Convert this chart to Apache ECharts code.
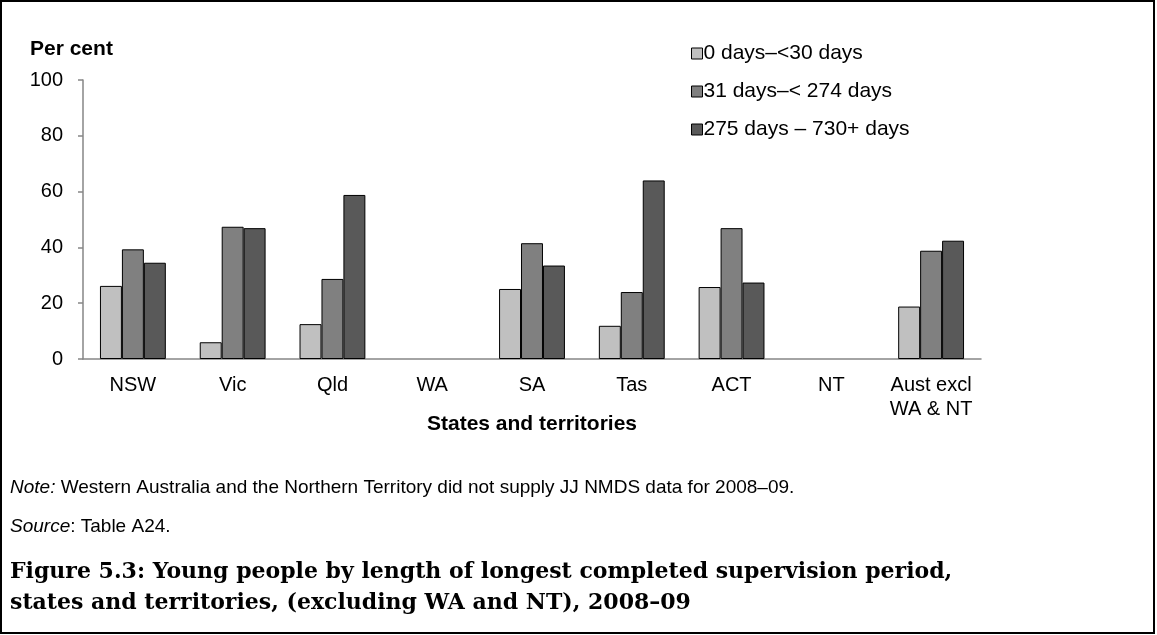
<!DOCTYPE html>
<html>
<head>
<meta charset="utf-8">
<script src="https://cdn.jsdelivr.net/npm/echarts@6/dist/echarts.min.js"></script>
<style>
  html, body { margin: 0; padding: 0; background: #fff; }
  #chart { width: 1157px; height: 635px; }
</style>
</head>
<body>
<div id="chart"></div>
<script>
const categories = ['NSW', 'Vic', 'Qld', 'WA', 'SA', 'Tas', 'ACT', 'NT', 'Aust excl\nWA & NT']
const seriesNames = ['0 days–<30 days', '31 days–< 274 days', '275 days – 730+ days']
const shortStay = [26.2, 6.0, 12.5, null, 25.1, 11.9, 25.8, null, 18.8]
const midStay = [39.3, 47.4, 28.7, null, 41.5, 24.0, 46.9, null, 38.8]
const longStay = [34.5, 46.9, 58.8, null, 33.5, 64.0, 27.4, null, 42.4]
const yTicks = [0, 20, 40, 60, 80, 100]

const font = 'Liberation Sans, Arial, sans-serif'
const serif = 'DejaVu Serif, Liberation Serif, serif'
const colors = ['#c0c0c0', '#808080', '#595959']
const values = [shortStay, midStay, longStay]

const chart = echarts.init(document.getElementById('chart'))

const option = {
  backgroundColor: '#fff',
  animation: false,
  color: colors,
  grid: { left: 83, right: 176, top: 80, bottom: 276 },
  legend: {
    orient: 'vertical',
    left: 686,
    top: 38,
    itemWidth: 11,
    itemHeight: 11,
    itemGap: 17,
    icon: 'rect',
    textStyle: { fontFamily: font, fontSize: 21, color: '#000', lineHeight: 20, padding: [0, 0, 0, -4] },
    itemStyle: { borderColor: '#000', borderWidth: 1 },
    data: seriesNames
  },
  xAxis: {
    type: 'category',
    data: categories,
    name: 'States and territories',
    nameLocation: 'middle',
    nameGap: 55,
    nameMoveOverlap: false,
    nameTextStyle: { fontFamily: font, fontSize: 21, fontWeight: 'bold', color: '#000' },
    axisLine: { lineStyle: { color: '#868686', width: 1.5 } },
    axisTick: { alignWithLabel: true, length: 5, lineStyle: { color: '#868686', width: 1.5 } },
    axisLabel: { fontFamily: font, fontSize: 20, color: '#000', lineHeight: 24, margin: 14, interval: 0 }
  },
  yAxis: {
    type: 'value',
    min: 0,
    max: 100,
    interval: 20,
    axisLine: { show: true, lineStyle: { color: '#868686', width: 1.5 } },
    axisTick: { show: true, length: 5, lineStyle: { color: '#868686', width: 1.5 } },
    axisLabel: {
      fontFamily: font, fontSize: 20, color: '#000', margin: 20,
      formatter: v => (yTicks.includes(v) ? String(v) : '')
    },
    splitLine: { show: false }
  },
  series: seriesNames.map((name, i) => ({
    name: name,
    type: 'bar',
    data: values[i],
    barGap: '0%',
    barCategoryGap: '34%',
    itemStyle: { color: colors[i], borderColor: '#000', borderWidth: 1 }
  })),
  graphic: [
    {
      type: 'rect',
      shape: { x: 1, y: 1, width: 1153, height: 632 },
      style: { fill: 'none', stroke: '#000', lineWidth: 2 },
      silent: true
    },
    {
      type: 'text',
      style: { text: 'Per cent', x: 30, y: 49, verticalAlign: 'middle', fontFamily: font, fontSize: 21, fontWeight: 'bold', fill: '#000' }
    },
    {
      type: 'text',
      style: {
        text: '{i|Note:} Western Australia and the Northern Territory did not supply JJ NMDS data for 2008–09.',
        x: 10, y: 488, verticalAlign: 'middle', fontFamily: font, fontSize: 19, fill: '#000',
        rich: { i: { fontFamily: font, fontSize: 19, fontStyle: 'italic', fill: '#000' } }
      }
    },
    {
      type: 'text',
      style: {
        text: '{i|Source}: Table A24.',
        x: 10, y: 527, verticalAlign: 'middle', fontFamily: font, fontSize: 19, fill: '#000',
        rich: { i: { fontFamily: font, fontSize: 19, fontStyle: 'italic', fill: '#000' } }
      }
    },
    {
      type: 'text',
      style: {
        text: 'Figure 5.3: Young people by length of longest completed supervision period,\nstates and territories, (excluding WA and NT), 2008–09',
        x: 10, y: 557, lineHeight: 31, fontFamily: serif, fontSize: 22, fontWeight: 'bold', fill: '#000'
      }
    }
  ]
}

chart.setOption(option)
</script>
</body>
</html>
